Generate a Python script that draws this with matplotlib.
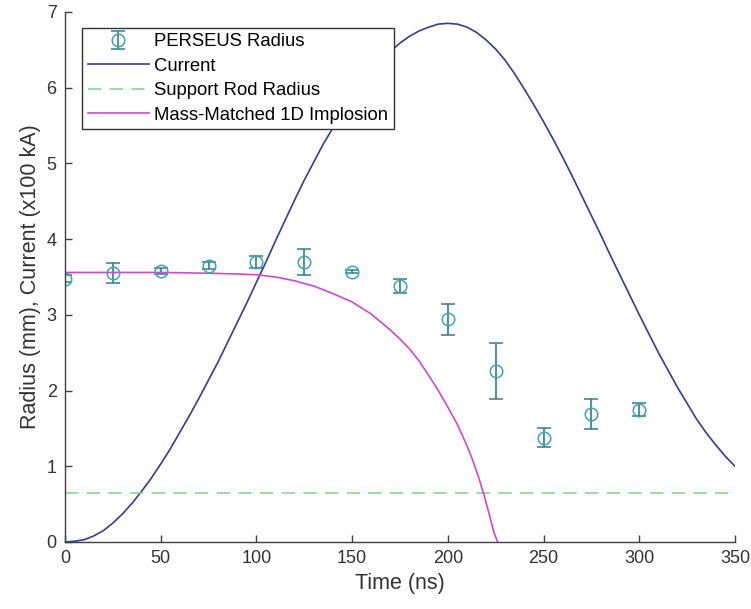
import numpy as np
import matplotlib.pyplot as plt

plt.rcParams['font.family'] = ['Liberation Sans', 'DejaVu Sans']

# measured radius (mm) with error bars
t_meas = [0, 25, 50, 75, 100, 125, 150, 175, 200, 225, 250, 275, 300]
r_meas = [3.48, 3.55, 3.58, 3.65, 3.70, 3.70, 3.57, 3.38, 2.94, 2.26, 1.38, 1.69, 1.75]
r_err = [0.04, 0.13, 0.04, 0.05, 0.08, 0.17, 0.02, 0.09, 0.20, 0.37, 0.12, 0.20, 0.08]

# drive current (x100 kA), every 5 ns
t_cur = list(range(0, 351, 5))
i_cur = [0.00, 0.01, 0.03, 0.08, 0.15, 0.25, 0.37, 0.51, 0.67, 0.84,
         1.03, 1.23, 1.45, 1.67, 1.90, 2.14, 2.38, 2.64, 2.90, 3.16,
         3.43, 3.70, 3.98, 4.25, 4.52, 4.78, 5.02, 5.26, 5.47, 5.67,
         5.86, 6.04, 6.20, 6.35, 6.48, 6.59, 6.68, 6.75, 6.80, 6.84,
         6.85, 6.84, 6.80, 6.73, 6.63, 6.51, 6.36, 6.18, 5.98, 5.77,
         5.55, 5.32, 5.08, 4.83, 4.57, 4.31, 4.05, 3.78, 3.52, 3.26,
         3.00, 2.75, 2.50, 2.27, 2.04, 1.83, 1.62, 1.44, 1.28, 1.13, 1.00]

# support rod radius
rod_radius = 0.65

# 1D implosion trajectory
t_imp = [0, 50, 75, 90, 100, 110, 120, 130, 140, 150, 160, 170, 175, 180, 185, 190,
         195, 200, 205, 210, 213, 216, 219, 222, 224, 226]
r_imp = [3.56, 3.56, 3.55, 3.54, 3.53, 3.50, 3.45, 3.38, 3.28, 3.17, 3.01, 2.80, 2.68,
         2.55, 2.39, 2.20, 2.00, 1.78, 1.55, 1.27, 1.08, 0.86, 0.61, 0.33, 0.13, 0.0]

fig = plt.figure(figsize=(7.51, 6.09), dpi=100)
ax = fig.add_axes([65 / 751, 67 / 609, 670 / 751, 530 / 609])

eb = ax.errorbar(t_meas, r_meas, yerr=r_err, fmt='o', color='#2f7f8c', mfc='none', mec='#3fa3b8',
                 ms=9, mew=1.1, elinewidth=1.2, capsize=5, capthick=1.2, label='PERSEUS Radius')
l_cur, = ax.plot(t_cur, i_cur, color='#3a3995', lw=1.2, label='Current')
l_rod = ax.axhline(rod_radius, color='#86d98f', lw=1.2, ls=(0, (8, 5)), label='Support Rod Radius')
l_imp, = ax.plot(t_imp, r_imp, color='#d147d1', lw=1.2, label='Mass-Matched 1D Implosion')

ax.set_xlim(0, 350)
ax.set_ylim(0, 7)
ax.set_xticks(np.arange(0, 351, 50))
ax.set_yticks(np.arange(0, 8, 1))
for s in ['top', 'right']:
    ax.spines[s].set_visible(False)
for s in ['left', 'bottom']:
    ax.spines[s].set_color('#404040')
    ax.spines[s].set_linewidth(1.0)
ax.tick_params(direction='in', length=5, width=1.0, color='#404040', labelsize=13,
               labelcolor='#333333', pad=6)
ax.set_xlabel('Time (ns)', fontsize=15.5, color='#333333')
ax.set_ylabel('Radius (mm), Current (x100 kA)', fontsize=15.5, color='#333333')

leg = ax.legend([eb, l_cur, l_rod, l_imp],
                ['PERSEUS Radius', 'Current', 'Support Rod Radius', 'Mass-Matched 1D Implosion'],
                loc='upper left', bbox_to_anchor=(0.026, 0.97), fontsize=13.3,
                frameon=True, fancybox=False, framealpha=1, edgecolor='#333333',
                borderpad=0.3, labelspacing=0.4, handlelength=3.3, handletextpad=0.3,
                borderaxespad=0)
leg.get_frame().set_linewidth(1.0)

fig.savefig('out.png', dpi=100)
